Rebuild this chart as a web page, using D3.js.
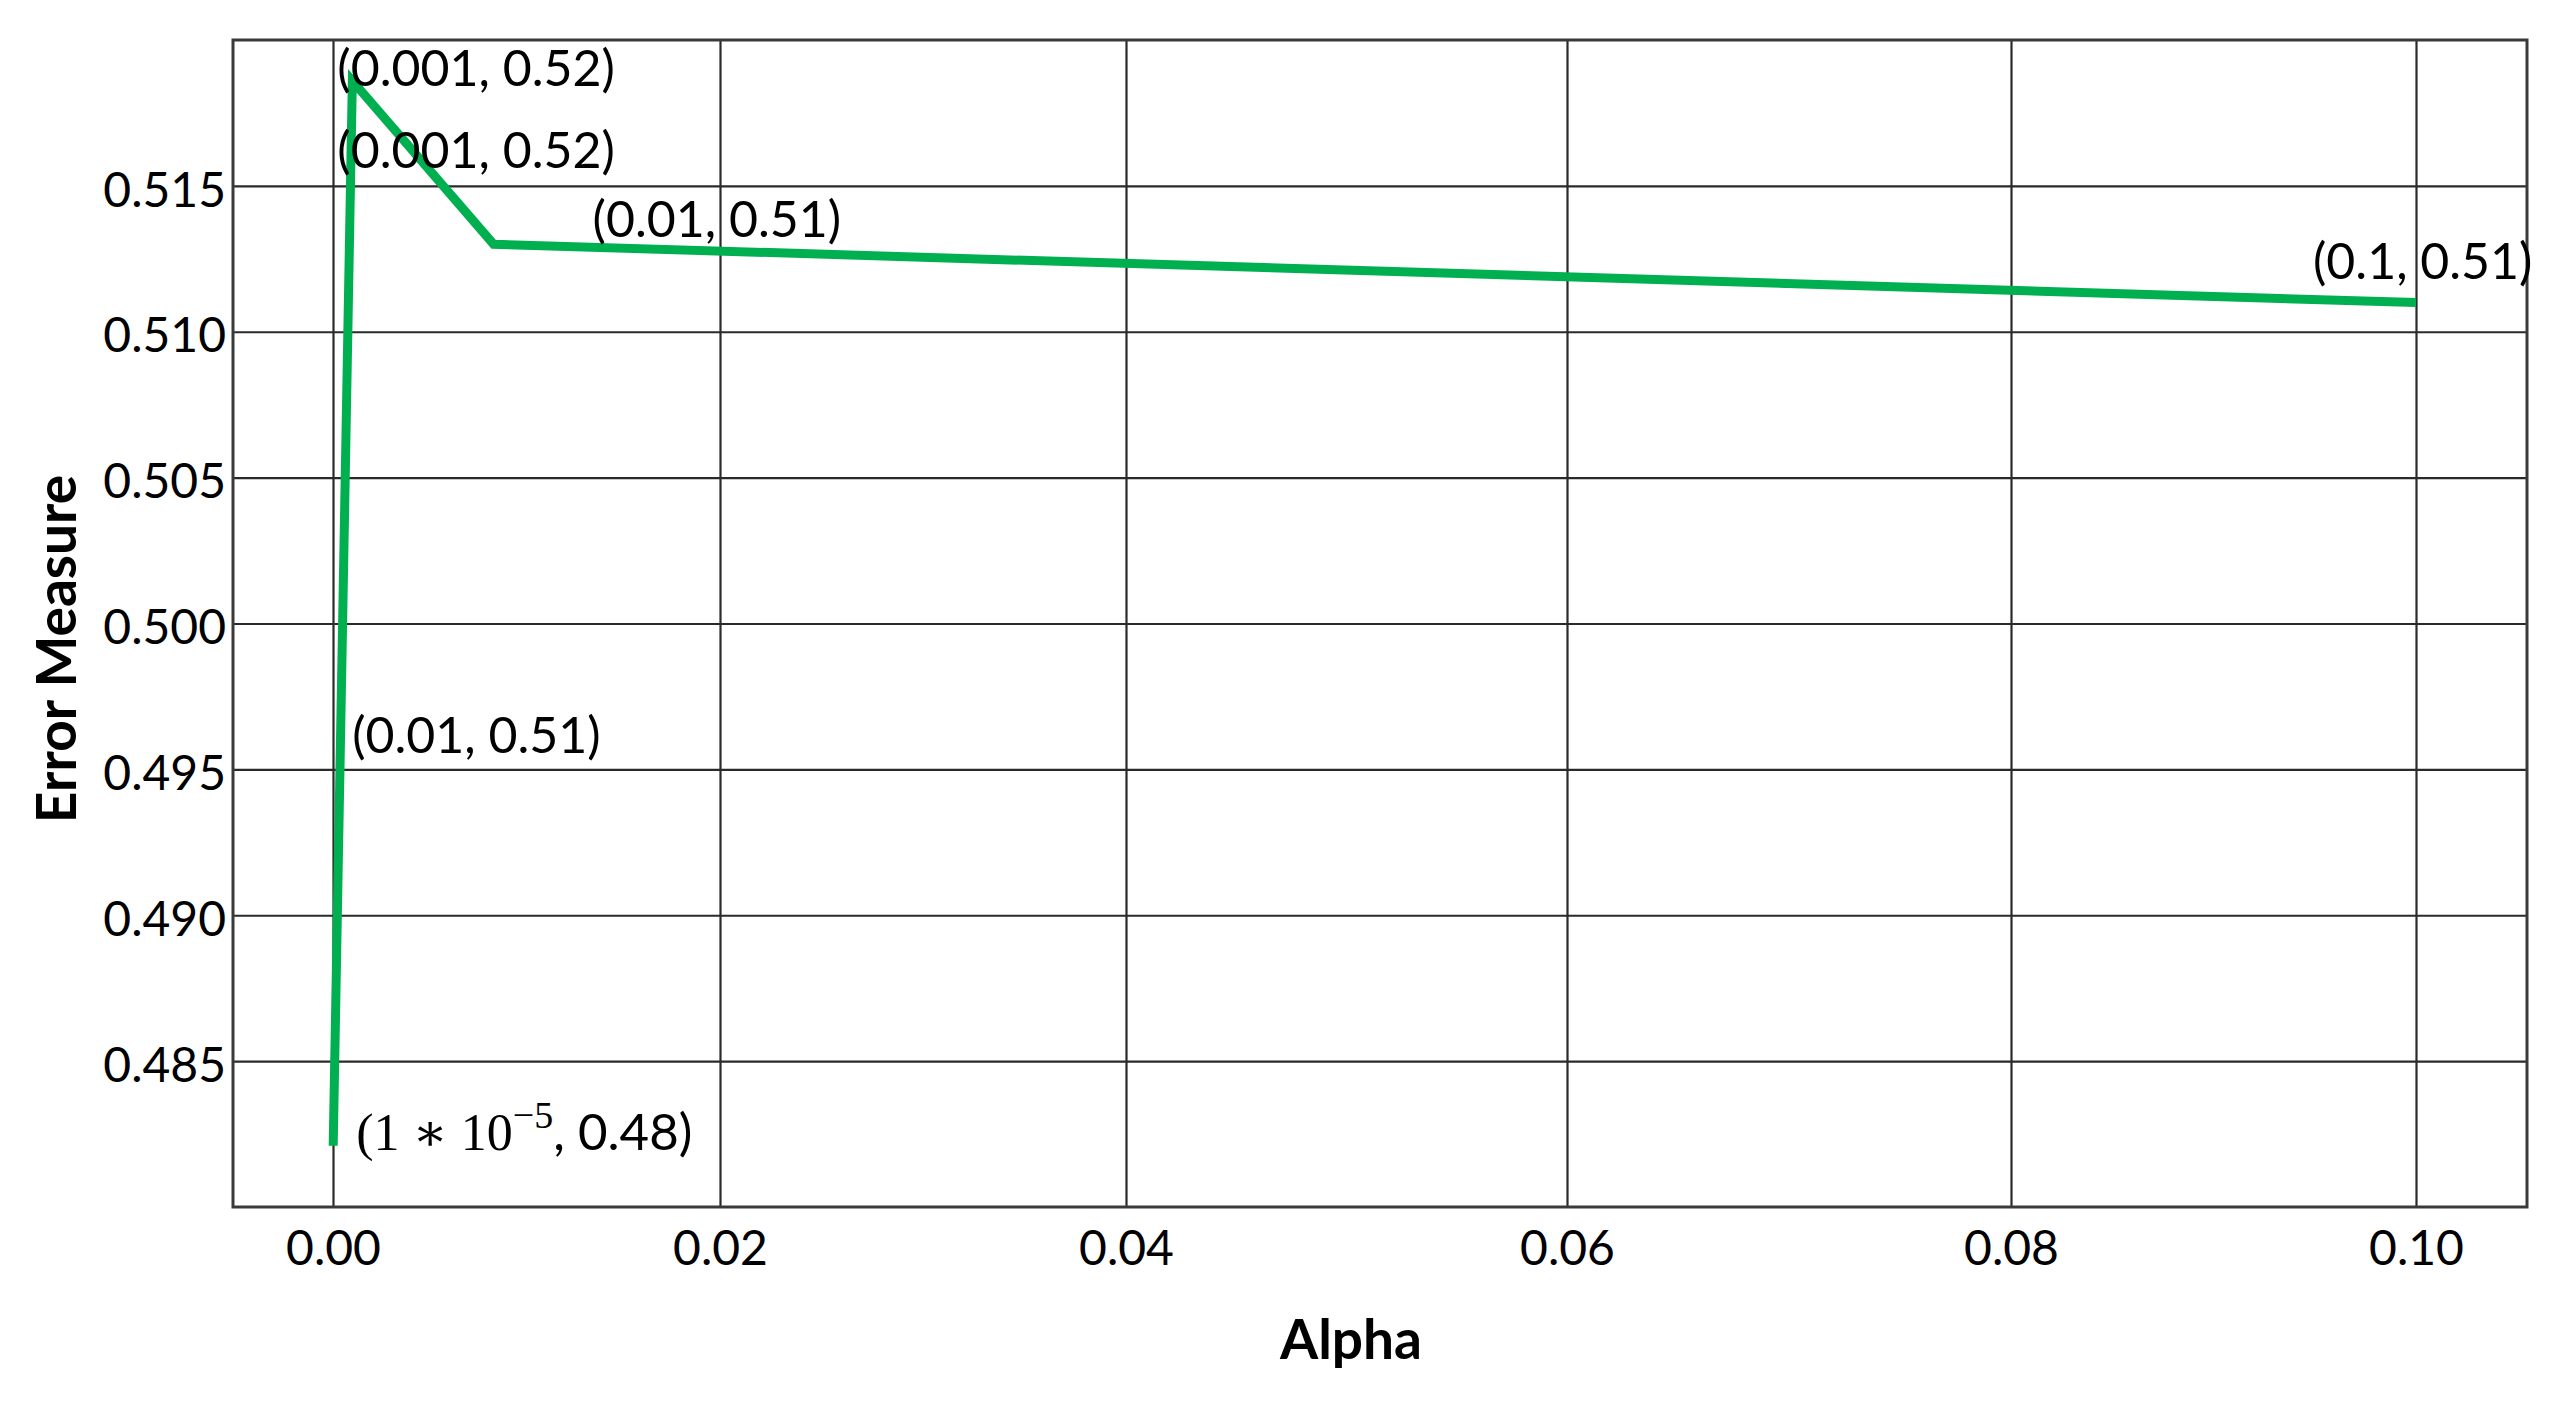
<!DOCTYPE html>
<html>
<head>
<meta charset="utf-8">
<script src="https://cdn.jsdelivr.net/npm/d3@7"></script>
<style>
  html, body { margin: 0; padding: 0; background: #ffffff; }
  svg { display: block; }
</style>
</head>
<body>
<script>
// ---------------- data ----------------
const alpha = [0.00001, 0.001, 0.0083, 0.1];
const errorMeasure = [0.4821, 0.5186, 0.5130, 0.5110];

const xTicks = [0, 0.02, 0.04, 0.06, 0.08, 0.10];
const xTickLabels = ["0.00", "0.02", "0.04", "0.06", "0.08", "0.10"];
const yTicks = [0.485, 0.490, 0.495, 0.500, 0.505, 0.510, 0.515];
const yTickLabels = ["0.485", "0.490", "0.495", "0.500", "0.505", "0.510", "0.515"];
const yDomain = [0.480, 0.520];

const annotationTexts = ["(0.001, 0.52)", "(0.001, 0.52)", "(0.01, 0.51)", "(0.01, 0.51)", "(0.1, 0.51)"];
const xTitle = "Alpha";
const yTitle = "Error Measure";

// ---------------- layout ----------------
const W = 2564, H = 1408;
const plot = { left: 233, right: 2527, top: 40, bottom: 1207 };
// the reference's x gridlines are not evenly spaced; measured pixel positions
const xTickPx = [333, 720, 1126, 1567, 2011, 2416];

const svg = d3.select("body").append("svg")
  .attr("width", W).attr("height", H)
  .style("background", "#fff");

const x = d3.scaleLinear().domain(xTicks).range(xTickPx);
const y = d3.scaleLinear().domain(yDomain).range([plot.bottom, plot.top]);

const gridColor = "#2a2a2a";
const sansFont = "Lato, 'Open Sans', sans-serif";

// horizontal gridlines via axis
const yAxis = d3.axisLeft(y)
  .tickValues(yTicks)
  .tickFormat((d, i) => yTickLabels[i])
  .tickSizeInner(-(plot.right - plot.left))
  .tickSizeOuter(0)
  .tickPadding(7);
const gy = svg.append("g")
  .attr("transform", `translate(${plot.left},0)`)
  .call(yAxis);
gy.select(".domain").remove();
gy.selectAll(".tick line").attr("stroke", gridColor).attr("stroke-width", 2.2);
gy.selectAll(".tick text")
  .attr("fill", "#000")
  .style("font-family", sansFont)
  .style("font-size", "48px")
  .attr("dy", "0.42em");

// vertical gridlines via axis
const xAxis = d3.axisBottom(x)
  .tickValues(xTicks)
  .tickFormat((d, i) => xTickLabels[i])
  .tickSizeInner(-(plot.bottom - plot.top))
  .tickSizeOuter(0)
  .tickPadding(24);
const gx = svg.append("g")
  .attr("transform", `translate(0,${plot.bottom})`)
  .call(xAxis);
gx.select(".domain").remove();
gx.selectAll(".tick line").attr("stroke", gridColor).attr("stroke-width", 2.2);
gx.selectAll(".tick text")
  .attr("fill", "#000")
  .style("font-family", sansFont)
  .style("font-size", "48px");

// frame
svg.append("rect")
  .attr("x", plot.left).attr("y", plot.top)
  .attr("width", plot.right - plot.left)
  .attr("height", plot.bottom - plot.top)
  .attr("fill", "none")
  .attr("stroke", "#3a3a3a")
  .attr("stroke-width", 3);

// line
const pts = alpha.map((a, i) => [a, errorMeasure[i]]);
const line = d3.line().x(d => x(d[0])).y(d => y(d[1]));
svg.append("path")
  .datum(pts)
  .attr("d", line)
  .attr("fill", "none")
  .attr("stroke", "#00B050")
  .attr("stroke-width", 9)
  .attr("stroke-linejoin", "miter")
  .attr("stroke-linecap", "butt");

// annotations (anchored to the data points, offset in pixels)
const P = pts.map(d => [x(d[0]), y(d[1])]);
const annFont = { family: sansFont, size: 50 };
const ann = [
  { t: annotationTexts[0], p: P[1], dx: -15, dy: 5 },
  { t: annotationTexts[1], p: P[1], dx: -15, dy: 87 },
  { t: annotationTexts[2], p: P[2], dx: 99, dy: -7 },
  { t: annotationTexts[3], p: P[0], dx: 19, dy: -393 },
  { t: annotationTexts[4], p: P[3], dx: -103, dy: -24 }
];
svg.append("g").selectAll("text")
  .data(ann).enter().append("text")
  .attr("x", d => d.p[0] + d.dx)
  .attr("y", d => d.p[1] + d.dy)
  .attr("fill", "#000")
  .style("font-family", annFont.family)
  .style("font-size", annFont.size + "px")
  .text(d => d.t);

// math annotation for first point
const mt = svg.append("text")
  .attr("x", P[0][0] + 23)
  .attr("y", P[0][1] + 4)
  .attr("fill", "#000")
  .style("font-size", "52px");
mt.append("tspan").style("font-family", "'Liberation Serif', 'DejaVu Serif', serif").text("(1 \u2217 10");
mt.append("tspan").style("font-family", "'Liberation Serif', 'DejaVu Serif', serif")
  .style("font-size", "38px").attr("dy", -22).text("\u22125");
mt.append("tspan").style("font-family", sansFont).style("font-size", "51px").attr("dy", 22).text(", 0.48)");

// axis titles
svg.append("text")
  .attr("x", 1351).attr("y", 1359)
  .attr("text-anchor", "middle")
  .attr("fill", "#000")
  .style("font-family", sansFont)
  .style("font-weight", "bold")
  .style("font-size", "55px")
  .text(xTitle);

svg.append("text")
  .attr("transform", "translate(76,649) rotate(-90)")
  .attr("text-anchor", "middle")
  .attr("fill", "#000")
  .style("font-family", sansFont)
  .style("font-weight", "bold")
  .style("font-size", "55px")
  .text(yTitle);
</script>
</body>
</html>
